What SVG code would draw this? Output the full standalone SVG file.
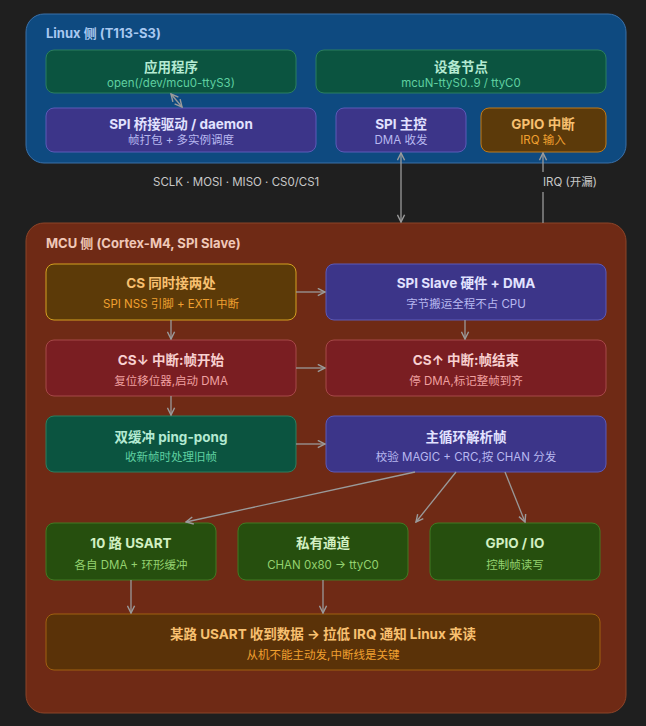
<svg xmlns="http://www.w3.org/2000/svg" width="646" height="726" viewBox="0 0 646 726">
<defs>
<marker id="ah" viewBox="0 0 10 10" refX="9" refY="5" markerWidth="9" markerHeight="9" markerUnits="userSpaceOnUse" orient="auto-start-reverse">
<path d="M1,1 L9,5 L1,9" fill="none" stroke="#9a9a9a" stroke-width="1.6"/>
</marker>
<style>
text{font-family:Inter,"Noto Sans CJK SC",sans-serif;text-anchor:middle}
.t{font-size:13.5px;font-weight:700}
.s{font-size:11.5px}
.g{font-size:13px;font-weight:700;text-anchor:start}
.c{stroke:#9a9a9a;stroke-width:1.3;fill:none;marker-end:url(#ah)}
.cb{stroke:#9a9a9a;stroke-width:1.3;fill:none;marker-end:url(#ah);marker-start:url(#ah)}
.grn rect{fill:#0b5440;stroke:#2b7f5e}
.grn .t{fill:#b4ead2}.grn .s{fill:#5fd0a0}
.pur rect{fill:#3c3589;stroke:#5c5ab8}
.pur .t{fill:#e2e2ff}.pur .s{fill:#b8b8f0}
.org rect{fill:#5c3a0a;stroke:#c07a18}
.org .t{fill:#f8c070}.org .s{fill:#f0a030}
.gold rect{fill:#5c3a08;stroke:#d4a020}
.gold .t{fill:#f8c070}.gold .s{fill:#f0a030}
.red rect{fill:#7a1e22;stroke:#a64848}
.red .t{fill:#f8d0d0}.red .s{fill:#f0a0a0}
.dg rect{fill:#264f0e;stroke:#417a22}
.dg .t{fill:#d2f0c2}.dg .s{fill:#94d270}
.brn rect{fill:#5a3208;stroke:#a06010}
.brn .t{fill:#f8c070}.brn .s{fill:#f0a030}
</style>
</defs>
<rect width="646" height="726" fill="#1f1f1f"/>

<g id="linux">
<rect x="26" y="14" width="600" height="149" rx="18" fill="#0e4a80" stroke="#3a70a8"/>
<text class="g" x="46" y="38" fill="#a8c8f0">Linux 侧 (T113-S3)</text>
</g>
<g id="mcu">
<rect x="26" y="223" width="600" height="490" rx="18" fill="#6f2a15" stroke="#8c4428"/>
<text class="g" x="46" y="248" fill="#f0c8b8">MCU 侧 (Cortex-M4, SPI Slave)</text>
</g>

<g id="app" class="grn"><rect x="46" y="50" width="250" height="43" rx="8"/><text class="t" x="171" y="72">应用程序</text><text class="s" x="171" y="87">open(/dev/mcu0-ttyS3)</text></g>
<g id="devnode" class="grn"><rect x="316" y="50" width="290" height="43" rx="8"/><text class="t" x="461" y="72">设备节点</text><text class="s" x="461" y="87">mcuN-ttyS0..9 / ttyC0</text></g>
<g id="bridge" class="pur"><rect x="46" y="108" width="270" height="44" rx="8"/><text class="t" x="181" y="129">SPI 桥接驱动 / daemon</text><text class="s" x="181" y="144">帧打包 + 多实例调度</text></g>
<g id="spimaster" class="pur"><rect x="336" y="108" width="130" height="44" rx="8"/><text class="t" x="401" y="129">SPI 主控</text><text class="s" x="401" y="144">DMA 收发</text></g>
<g id="gpioirq" class="org"><rect x="481" y="108" width="125" height="44" rx="8"/><text class="t" x="543" y="129">GPIO 中断</text><text class="s" x="543" y="144">IRQ 输入</text></g>

<g id="cs" class="gold"><rect x="46" y="264" width="250" height="56" rx="8"/><text class="t" x="171" y="288">CS 同时接两处</text><text class="s" x="171" y="308">SPI NSS 引脚 + EXTI 中断</text></g>
<g id="spislave" class="pur"><rect x="326" y="264" width="280" height="56" rx="8"/><text class="t" x="466" y="288">SPI Slave 硬件 + DMA</text><text class="s" x="466" y="308">字节搬运全程不占 CPU</text></g>
<g id="csdown" class="red"><rect x="46" y="340" width="250" height="56" rx="8"/><text class="t" x="171" y="365">CS↓ 中断:帧开始</text><text class="s" x="171" y="385">复位移位器,启动 DMA</text></g>
<g id="csup" class="red"><rect x="326" y="340" width="280" height="56" rx="8"/><text class="t" x="466" y="365">CS↑ 中断:帧结束</text><text class="s" x="466" y="385">停 DMA,标记整帧到齐</text></g>
<g id="pingpong" class="grn"><rect x="46" y="416" width="250" height="56" rx="8"/><text class="t" x="171" y="442">双缓冲 ping-pong</text><text class="s" x="171" y="461">收新帧时处理旧帧</text></g>
<g id="mainloop" class="pur"><rect x="326" y="416" width="280" height="56" rx="8"/><text class="t" x="466" y="442">主循环解析帧</text><text class="s" x="466" y="461">校验 MAGIC + CRC,按 CHAN 分发</text></g>

<g id="usart" class="dg"><rect x="46" y="523" width="170" height="57" rx="8"/><text class="t" x="131" y="548">10 路 USART</text><text class="s" x="131" y="569">各自 DMA + 环形缓冲</text></g>
<g id="private" class="dg"><rect x="238" y="523" width="170" height="57" rx="8"/><text class="t" x="323" y="548">私有通道</text><text class="s" x="323" y="569">CHAN 0x80 → ttyC0</text></g>
<g id="gpioio" class="dg"><rect x="430" y="523" width="170" height="57" rx="8"/><text class="t" x="515" y="548">GPIO / IO</text><text class="s" x="515" y="569">控制帧读写</text></g>
<g id="notify" class="brn"><rect x="46" y="614" width="554" height="56" rx="8"/><text class="t" x="323" y="639">某路 USART 收到数据 → 拉低 IRQ 通知 Linux 来读</text><text class="s" x="323" y="659">从机不能主动发,中断线是关键</text></g>

<g id="connectors">
<line class="cb" x1="171" y1="94" x2="182" y2="107"/>
<line class="cb" x1="401" y1="153" x2="401" y2="222"/>
<line class="c" x1="543" y1="223" x2="543" y2="153"/>
<rect x="538" y="172" width="70" height="20" fill="#1f1f1f"/>
<text x="153" y="186" style="font-size:11.5px;text-anchor:start" fill="#c8c8c8">SCLK · MOSI · MISO · CS0/CS1</text>
<text x="543" y="186" style="font-size:11.5px;text-anchor:start" fill="#c8c8c8">IRQ (开漏)</text>
<line class="c" x1="296" y1="292" x2="325" y2="292"/>
<line class="c" x1="296" y1="368" x2="325" y2="368"/>
<line class="c" x1="296" y1="444" x2="325" y2="444"/>
<line class="c" x1="171" y1="320" x2="171" y2="339"/>
<line class="c" x1="171" y1="396" x2="171" y2="415"/>
<line class="c" x1="465" y1="320" x2="465" y2="339"/>
<line class="c" x1="415" y1="472" x2="186" y2="522"/>
<line class="c" x1="456" y1="472" x2="416" y2="522"/>
<line class="c" x1="505" y1="472" x2="525" y2="522"/>
<line class="c" x1="131" y1="580" x2="131" y2="613"/>
<line class="c" x1="323" y1="580" x2="323" y2="613"/>
</g>
</svg>
